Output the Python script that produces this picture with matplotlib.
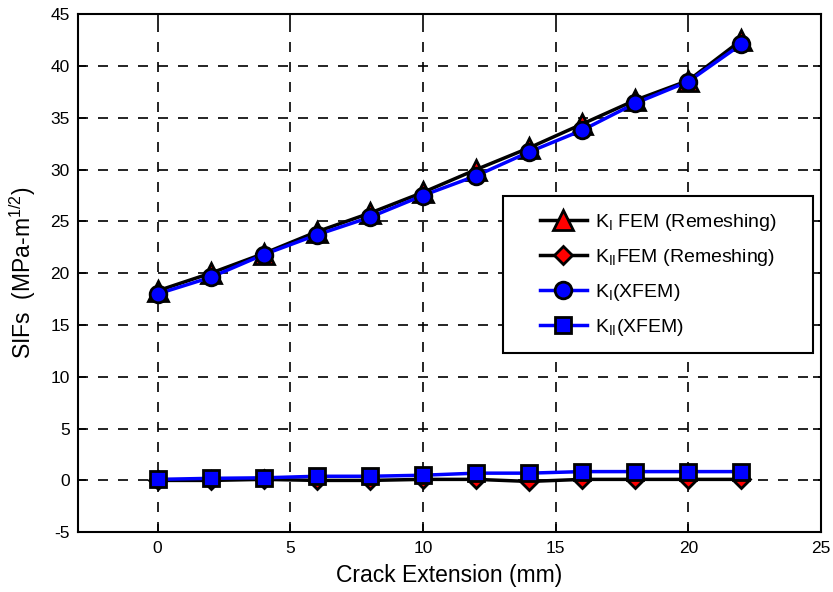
import numpy as np
import matplotlib
matplotlib.use('Agg')
import matplotlib.pyplot as plt
from matplotlib.patches import Rectangle

plt.rcParams['font.family'] = 'Liberation Sans'
plt.rcParams['mathtext.fontset'] = 'custom'
plt.rcParams['mathtext.rm'] = 'Liberation Sans'
plt.rcParams['mathtext.it'] = 'Liberation Sans'
plt.rcParams['axes.unicode_minus'] = False

# data
crack = [0, 2, 4, 6, 8, 10, 12, 14, 16, 18, 20, 22]
k1_fem = [18.3, 20.0, 21.9, 24.0, 25.8, 27.8, 30.0, 32.1, 34.4, 36.7, 38.6, 42.5]
k2_fem = [0.0, 0.0, 0.1, 0.0, 0.0, 0.1, 0.1, -0.1, 0.1, 0.1, 0.1, 0.1]
k1_xfem = [18.0, 19.6, 21.8, 23.7, 25.4, 27.5, 29.4, 31.7, 33.8, 36.4, 38.5, 42.1]
k2_xfem = [0.1, 0.2, 0.25, 0.4, 0.4, 0.5, 0.7, 0.7, 0.85, 0.85, 0.85, 0.85]

fig = plt.figure(figsize=(8.33, 5.92), dpi=100)
ax = fig.add_axes([0.0936, 0.101, 0.892, 0.875])

ax.plot(crack, k1_fem, '-^', color='black', lw=2.5, ms=14, mfc='red', mec='black', mew=2,
        label=r'K$_{\rm I}$ FEM (Remeshing)')
ax.plot(crack, k2_fem, '-D', color='black', lw=2.5, ms=9, mfc='red', mec='black', mew=2,
        label=r'K$_{\rm II}$FEM (Remeshing)')
ax.plot(crack, k1_xfem, '-o', color='blue', lw=2.5, ms=12, mfc='blue', mec='black', mew=2,
        label=r'K$_{\rm I}$(XFEM)')
ax.plot(crack, k2_xfem, '-s', color='blue', lw=2.5, ms=11, mfc='blue', mec='black', mew=2,
        label=r'K$_{\rm II}$(XFEM)')

ax.set_xlim(-3, 25)
ax.set_ylim(-5, 45)
ax.set_xticks(np.arange(0, 26, 5))
ax.set_yticks(np.arange(-5, 46, 5))
ax.grid(True, color='black', linestyle=(0, (6, 6)), linewidth=1.2)
ax.tick_params(direction='in', top=True, right=True, labelsize=12.5, length=6, width=1.2)
ax.tick_params(axis='y', pad=6)
ax.tick_params(axis='x', pad=6)
for s in ax.spines.values():
    s.set_linewidth(1.5)

ax.set_xlabel('Crack Extension (mm)', fontsize=16.5, labelpad=6)
ax.set_ylabel(r'SIFs  (MPa-m$^{1/2}$)', fontsize=16.5, labelpad=9)

# legend box (MATLAB style, wide side padding)
ax.add_patch(Rectangle((0.572, 0.3456), 0.417, 0.303, transform=ax.transAxes,
                       facecolor='white', edgecolor='black', lw=1.5, zorder=4.9))
leg = ax.legend(loc='center left', bbox_to_anchor=(0.622, 0.497), fontsize=14,
                frameon=False, handlelength=2.4, handletextpad=0.4,
                labelspacing=0.72, borderpad=0, borderaxespad=0)
leg.set_zorder(5)

fig.savefig('out.png', dpi=100)
